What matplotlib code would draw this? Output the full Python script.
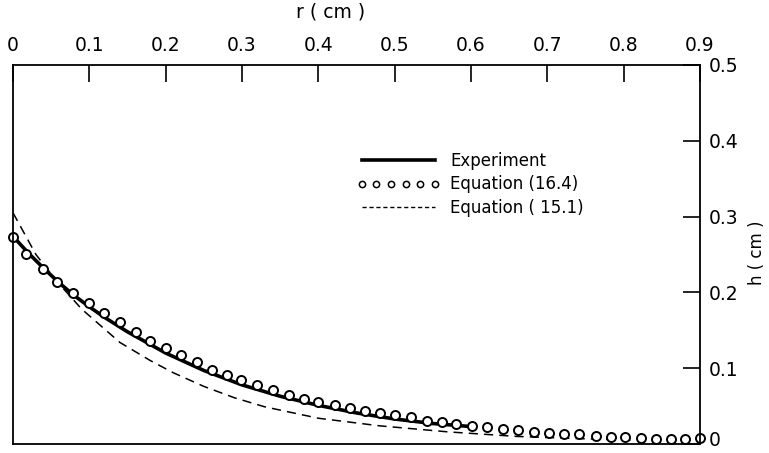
import matplotlib
matplotlib.use("Agg")
import matplotlib.pyplot as plt
from matplotlib.lines import Line2D
from matplotlib.ticker import FuncFormatter
from matplotlib.transforms import ScaledTranslation

# Experiment (solid line)
r_exp = [0.0, 0.02, 0.04, 0.06, 0.08, 0.10, 0.12, 0.15, 0.20, 0.25, 0.30,
         0.35, 0.40, 0.45, 0.50, 0.55, 0.60]
h_exp = [0.274, 0.252, 0.232, 0.213, 0.196, 0.181, 0.167, 0.148, 0.120,
         0.097, 0.078, 0.063, 0.051, 0.041, 0.033, 0.027, 0.023]

# Equation (16.4) (open circles)
r_164 = [0.0, 0.017, 0.039, 0.058, 0.079, 0.100, 0.119, 0.140, 0.161, 0.180,
         0.200, 0.220, 0.241, 0.261, 0.281, 0.299, 0.319, 0.340, 0.361, 0.381,
         0.399, 0.422, 0.442, 0.461, 0.481, 0.500, 0.522, 0.542, 0.562, 0.581,
         0.601, 0.621, 0.642, 0.662, 0.682, 0.702, 0.722, 0.741, 0.764, 0.783,
         0.802, 0.823, 0.842, 0.862, 0.881, 0.900]
h_164 = [0.273, 0.251, 0.231, 0.214, 0.199, 0.186, 0.173, 0.161, 0.148, 0.136,
         0.126, 0.117, 0.108, 0.098, 0.091, 0.084, 0.078, 0.071, 0.065, 0.060,
         0.055, 0.051, 0.048, 0.044, 0.041, 0.038, 0.035, 0.031, 0.029, 0.027,
         0.024, 0.022, 0.020, 0.018, 0.016, 0.015, 0.013, 0.013, 0.010, 0.009,
         0.009, 0.008, 0.007, 0.007, 0.007, 0.008]

# Equation (15.1) (dashed line)
r_151 = [0.0, 0.03, 0.057, 0.09, 0.14, 0.18, 0.21, 0.25, 0.29, 0.33, 0.40,
         0.48, 0.57, 0.66, 0.745, 0.815]
h_151 = [0.305, 0.250, 0.215, 0.178, 0.134, 0.110, 0.094, 0.076, 0.061,
         0.049, 0.034, 0.024, 0.016, 0.010, 0.007, 0.005]

x_ticks = [0, 0.1, 0.2, 0.3, 0.4, 0.5, 0.6, 0.7, 0.8, 0.9]
y_ticks = [0, 0.1, 0.2, 0.3, 0.4, 0.5]


def tick_fmt(v, pos):
    return "0" if abs(v) < 1e-9 else f"{v:.1f}"


plt.rcParams["font.family"] = ["DejaVu Sans"]

fig = plt.figure(figsize=(7.69, 4.53), dpi=100)
# axes box in pixels: left 13, right 700, top 65, bottom 444
ax = fig.add_axes([13 / 769, 1 - 444 / 453, 687 / 769, 379 / 453])

ax.plot(r_151, h_151, color="black", lw=1.1, dashes=(6, 4))
ax.plot(r_exp, h_exp, color="black", lw=2.6, solid_capstyle="butt")
ax.plot(r_164, h_164, ls="none", marker="o", ms=6.5, mfc="white",
        mec="black", mew=1.4, clip_on=False)

ax.set_xlim(0, 0.9)
ax.set_ylim(0, 0.5)
ax.set_xticks(x_ticks)
ax.set_yticks(y_ticks)
ax.xaxis.set_major_formatter(FuncFormatter(tick_fmt))
ax.yaxis.set_major_formatter(FuncFormatter(tick_fmt))

ax.tick_params(axis="x", which="both", direction="in", top=True, bottom=False,
               labeltop=True, labelbottom=False, length=12, width=1.2,
               pad=7, labelsize=13.5)
ax.tick_params(axis="y", which="both", direction="in", right=True, left=False,
               labelright=True, labelleft=False, length=12, width=1.2,
               pad=6, labelsize=13.5)
for sp in ax.spines.values():
    sp.set_linewidth(1.3)

ax.xaxis.set_label_position("top")
ax.set_xlabel("r ( cm )", fontsize=13.5)
ax.xaxis.set_label_coords((331 - 13) / 687, (444 - 18) / 379)
ax.yaxis.set_label_position("right")
ax.set_ylabel("h ( cm )", fontsize=12)
ax.yaxis.set_label_coords((748 - 13) / 687, (444 - 253) / 379)

# nudge the "0" label on the right axis up a little so it stays in frame
zero_tick = ax.yaxis.get_major_ticks()[0]
zero_tick.label2.set_transform(zero_tick.label2.get_transform()
                               + ScaledTranslation(0, 4 / 72, fig.dpi_scale_trans))

handles = [
    Line2D([], [], color="black", lw=2.6),
    Line2D([], [], ls="none", marker="o", ms=4.5, mfc="white", mec="black",
           mew=1.1),
    Line2D([], [], color="black", lw=1.0, dashes=(3, 2)),
]
labels = ["Experiment", "Equation (16.4)", "Equation ( 15.1)"]
leg = ax.legend(handles, labels, loc="upper left",
                bbox_to_anchor=((350 - 13) / 687, (444 - 145) / 379),
                frameon=False, fontsize=12, handlelength=5.0,
                handletextpad=0.6, labelspacing=0.35, numpoints=6,
                borderaxespad=0)

fig.savefig("out.png", dpi=100)
